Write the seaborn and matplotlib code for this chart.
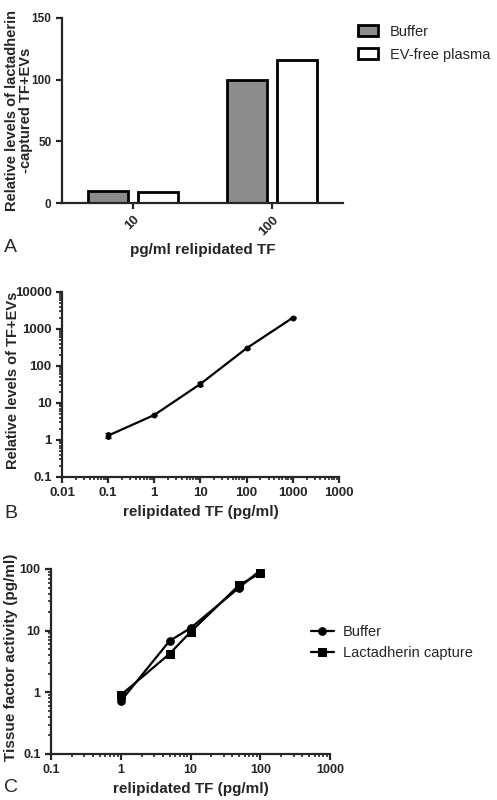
import numpy as np
import pandas as pd
import seaborn as sns
import matplotlib.pyplot as plt
from matplotlib.ticker import LogLocator, NullFormatter

# ── data ──────────────────────────────────────────────
dose_a = ["10", "100"]
buffer_a = [10, 100]
plasma_a = [9, 116]

# panel B: two replicates per concentration
conc_b = [0.1, 0.1, 1, 1, 10, 10, 100, 100, 1000, 1000]
level_b = [1.1, 1.5, 4.6, 4.8, 28, 37, 290, 310, 1950, 2050]
xticks_b = [0.01, 0.1, 1, 10, 100, 1000, 10000]
xlabels_b = ["0.01", "0.1", "1", "10", "100", "1000", "1000"]
yticks_b = [0.1, 1, 10, 100, 1000, 10000]
ylabels_b = ["0.1", "1", "10", "100", "1000", "10000"]

conc_c = [1, 5, 10, 50, 100]
buffer_c = [0.72, 6.8, 11, 50, 95]
lact_c = [0.9, 4.2, 9.5, 55, 85]
xticks_c = [0.1, 1, 10, 100, 1000]
xlabels_c = ["0.1", "1", "10", "100", "1000"]
yticks_c = [0.1, 1, 10, 100]
ylabels_c = ["0.1", "1", "10", "100"]

sns.set_style("ticks")
plt.rcParams["font.family"] = ["Liberation Sans", "DejaVu Sans"]
plt.rcParams["axes.linewidth"] = 1.6
plt.rcParams["xtick.major.width"] = 1.6
plt.rcParams["ytick.major.width"] = 1.6
plt.rcParams["xtick.minor.width"] = 1.2
plt.rcParams["ytick.minor.width"] = 1.2
plt.rcParams["xtick.major.size"] = 4
plt.rcParams["ytick.major.size"] = 4
plt.rcParams["xtick.minor.size"] = 2.5
plt.rcParams["ytick.minor.size"] = 2.5

fig = plt.figure(figsize=(4.97, 8), dpi=100)


def style_ticks(ax, fs):
    for lab in ax.get_xticklabels() + ax.get_yticklabels():
        lab.set_fontweight("bold")
        lab.set_fontsize(fs)
    sns.despine(ax=ax)


def log_axes(ax, xt, xl, yt, yl):
    ax.set_xscale("log")
    ax.set_yscale("log")
    ax.set_xlim(xt[0], xt[-1])
    ax.set_ylim(yt[0], yt[-1])
    ax.set_xticks(xt)
    ax.set_xticklabels(xl)
    ax.set_yticks(yt)
    ax.set_yticklabels(yl)
    ax.xaxis.set_minor_locator(LogLocator(base=10, subs=np.arange(2, 10), numticks=20))
    ax.yaxis.set_minor_locator(LogLocator(base=10, subs=np.arange(2, 10), numticks=20))
    ax.xaxis.set_minor_formatter(NullFormatter())
    ax.yaxis.set_minor_formatter(NullFormatter())


# ── A. bar chart ─────────────────────────────────────
axA = fig.add_axes([0.1247, 0.746, 0.566, 0.2315])
dfA = pd.DataFrame({
    "dose": dose_a * 2,
    "value": buffer_a + plasma_a,
    "cond": ["Buffer"] * 2 + ["EV-free plasma"] * 2,
})
sns.barplot(data=dfA, x="dose", y="value", hue="cond",
            palette=["#8c8c8c", "white"], edgecolor="black",
            linewidth=2, width=0.72, gap=0.2, ax=axA)
axA.set_xlim(-0.51, 1.51)
axA.set_ylim(0, 150)
axA.set_yticks([0, 50, 100, 150])
axA.set_xlabel("pg/ml relipidated TF", fontsize=11, fontweight="bold")
axA.set_ylabel("Relative levels of lactadherin\n-captured TF+EVs",
               fontsize=10.5, fontweight="bold", linespacing=1.0)
axA.yaxis.set_label_coords(-0.103, 0.50)
style_ticks(axA, 8.5)
for lab in axA.get_xticklabels():
    lab.set_fontsize(9.5)
    lab.set_rotation(45)
    lab.set_ha("right")
    lab.set_va("top")
    lab.set_rotation_mode("anchor")
axA.legend(bbox_to_anchor=(1.03, 0.995), loc="upper left", frameon=False,
           fontsize=10.5, handlelength=1.4, handleheight=0.8,
           labelspacing=0.6, borderaxespad=0)

# ── B. dose response ─────────────────────────────────
axB = fig.add_axes([0.1247, 0.404, 0.557, 0.231])
dfB = pd.DataFrame({"conc": conc_b, "level": level_b})
sns.lineplot(data=dfB, x="conc", y="level", color="black",
             marker="o", markersize=3.5, markeredgecolor="black",
             linewidth=1.6, errorbar=("pi", 100), err_style="bars",
             err_kws={"capsize": 2, "elinewidth": 2.2}, ax=axB)
log_axes(axB, xticks_b, xlabels_b, yticks_b, ylabels_b)
axB.set_xlabel("relipidated TF (pg/ml)", fontsize=11, fontweight="bold")
axB.set_ylabel("Relative levels of TF+EVs", fontsize=10.5, fontweight="bold")
axB.yaxis.set_label_coords(-0.152, 0.52)
style_ticks(axB, 9.5)

# ── C. tissue factor activity ────────────────────────
axC = fig.add_axes([0.1026, 0.0575, 0.5614, 0.2313])
dfC = pd.DataFrame({
    "conc": conc_c * 2,
    "act": buffer_c + lact_c,
    "cond": ["Buffer"] * len(conc_c) + ["Lactadherin capture"] * len(conc_c),
})
sns.lineplot(data=dfC, x="conc", y="act", hue="cond", style="cond",
             palette=["black", "black"],
             markers={"Buffer": "o", "Lactadherin capture": "s"},
             dashes=False, markersize=5.5, markeredgecolor="black",
             linewidth=1.6, ax=axC)
log_axes(axC, xticks_c, xlabels_c, yticks_c, ylabels_c)
axC.set_xlabel("relipidated TF (pg/ml)", fontsize=11, fontweight="bold")
axC.set_ylabel("Tissue factor activity (pg/ml)", fontsize=11, fontweight="bold")
axC.yaxis.set_label_coords(-0.118, 0.52)
style_ticks(axC, 9)
axC.legend(bbox_to_anchor=(0.91, 0.73), loc="upper left", frameon=False,
           fontsize=10.5, handlelength=1.6, handletextpad=0.6,
           labelspacing=0.5, borderaxespad=0)

# panel letters
for y, letter in [(0.675, "A"), (0.342, "B"), (0.0, "C")]:
    fig.text(0.008, y + 0.005, letter, fontsize=14, va="bottom")

fig.savefig("out.png", dpi=100)
